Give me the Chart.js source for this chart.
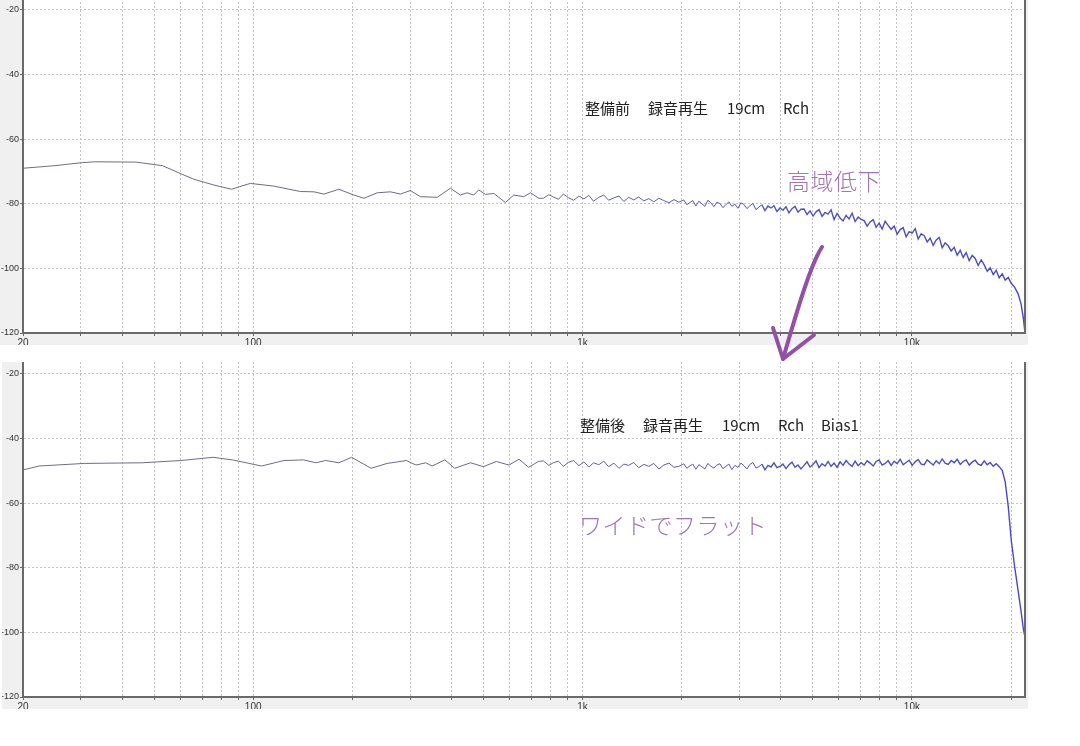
<!DOCTYPE html>
<html>
<head>
<meta charset="utf-8">
<script src="https://cdn.jsdelivr.net/npm/chart.js@4.4.1/dist/chart.umd.min.js"></script>
<style>
  html, body { margin: 0; padding: 0; background: #fff; }
  body { width: 1080px; height: 746px; position: relative; overflow: hidden; font-family: "Noto Sans CJK JP", sans-serif; }
  canvas { position: absolute; }
  #top { left: 0; top: -2px; }
  #bottom { left: 2px; top: 362px; }
  .note { position: absolute; white-space: nowrap; line-height: 1; }
  .cap { font-size: 15px; color: #222; }
  .hand { font-size: 23px; color: #a274b4; letter-spacing: 0.5px; font-weight: 300; }
  svg { position: absolute; left: 0; top: 0; }
</style>
</head>
<body>
<canvas id="top" width="1028" height="347"></canvas>
<canvas id="bottom" width="1026" height="347"></canvas>

<span class="note cap" style="left:585px;top:100px">整備前</span>
<span class="note cap" style="left:648px;top:100px">録音再生</span>
<span class="note cap" style="left:727px;top:100px">19cm</span>
<span class="note cap" style="left:783px;top:100px">Rch</span>
<span class="note hand" style="left:787px;top:169px">高域低下</span>

<span class="note cap" style="left:580px;top:417px">整備後</span>
<span class="note cap" style="left:643px;top:417px">録音再生</span>
<span class="note cap" style="left:722px;top:417px">19cm</span>
<span class="note cap" style="left:778px;top:417px">Rch</span>
<span class="note cap" style="left:821px;top:417px">Bias1</span>
<span class="note hand" style="left:579px;top:513px">ワイドでフラット</span>

<svg width="1080" height="746">
  <g fill="none" stroke="#9350a5" stroke-width="4" stroke-linecap="round" stroke-linejoin="round">
    <path d="M822,247 C812,262 800,300 783,359"/>
    <path d="M773,328 L783,359 L814,335"/>
  </g>
</svg>

<script>
// frequency axis (Hz) and level axis (dB)
var xGrid = [20, 30, 40, 50, 60, 70, 80, 90, 100, 200, 300, 400, 500, 600, 700, 800, 900,
             1000, 2000, 3000, 4000, 5000, 6000, 7000, 8000, 9000, 10000, 20000];
var xLabels = { 20: '20', 100: '100', 1000: '1k', 10000: '10k' };
var yGrid = [-120, -100, -80, -60, -40, -20];

// upper trace (before service), 20 - 737 Hz
var topLowFreq = [20, 25, 30, 33, 44, 53, 60, 66, 76, 86,
                  91, 98, 115, 139, 153, 164, 182, 202, 217, 238,
                  261, 280, 300, 322, 362, 397, 426, 446, 467, 484,
                  507, 538, 583, 618, 663, 695, 737];
var topLowLevel = [-69.0, -68.2, -67.3, -67.0, -67.1, -68.2, -70.6, -72.4, -74.2, -75.5,
                   -74.7, -73.7, -74.5, -76.2, -76.3, -77.0, -75.5, -77.3, -78.3, -76.6,
                   -76.3, -77.0, -75.9, -77.8, -78.0, -75.2, -77.3, -76.6, -77.3, -75.7,
                   -77.1, -76.8, -79.6, -77.3, -77.8, -76.6, -78.3];

// lower trace (after service), 20 - 734 Hz
var bottomLowFreq = [20, 22.4, 30.7, 46, 60.3, 75.5, 86.5, 106, 124, 142,
                     155, 166, 182, 199, 228, 255, 292, 312, 334, 349,
                     382, 409, 457, 500, 547, 598, 641, 686, 734];
var bottomLowLevel = [-49.7, -48.5, -47.7, -47.5, -46.8, -45.8, -46.6, -48.5, -46.8, -46.6,
                      -47.5, -46.8, -47.5, -45.8, -49.2, -47.7, -46.8, -48.2, -47.5, -48.5,
                      -46.6, -49.2, -47.5, -48.7, -47.1, -48.2, -46.4, -48.9, -47.1];

// shared frequency points for the busy part, 760 Hz - 20 kHz
var hfFreq = [760, 790, 815, 845, 875, 905, 940, 975, 1010, 1045,
              1080, 1120, 1160, 1200, 1245, 1290, 1335, 1380, 1430, 1480,
              1535, 1590, 1645, 1705, 1765, 1830, 1895, 1960,
              2030, 2073, 2117, 2162, 2208, 2255, 2303, 2352, 2402, 2453,
              2505, 2558, 2612, 2667, 2724, 2782, 2841, 2901, 2963, 3026,
              3090, 3156, 3223, 3291, 3361, 3432, 3505, 3579, 3655, 3733,
              3812, 3893, 3976, 4060, 4146, 4234, 4324, 4416, 4510, 4606,
              4704, 4804, 4906, 5010, 5116, 5225, 5336, 5449, 5565, 5683,
              5804, 5927, 6053, 6181, 6312, 6446, 6583, 6723, 6866, 7012,
              7161, 7313, 7468, 7626, 7788, 7953, 8122, 8294, 8470, 8650,
              8834, 9021, 9212, 9408, 9607, 9811, 10019, 10232, 10449, 10671,
              10897, 11128, 11364, 11605, 11851, 12102, 12359, 12621, 12889, 13162,
              13441, 13726, 14017, 14314, 14618, 14928, 15244, 15568, 15898, 16235,
              16579, 16931, 17290, 17657, 18031, 18413, 18804, 19203, 19610, 20026];

var topHfLevel = [-78.3, -77.2, -77.9, -78.6, -77.0, -78.1, -78.9, -77.6, -78.5, -77.4,
                  -79.2, -78.0, -77.3, -78.9, -78.2, -77.6, -79.3, -78.0, -78.8, -77.9,
                  -79.1, -78.4, -79.4, -78.3, -79.0, -79.7, -78.7, -79.5,
                  -78.8, -80.3, -79.6, -79.0, -80.7, -79.2, -80.0, -80.8, -78.9, -79.7,
                  -80.9, -79.5, -79.9, -81.2, -80.3, -79.4, -80.8, -80.1, -81.4, -79.7,
                  -80.2, -81.5, -80.6, -79.9, -81.8, -81.0, -80.3, -82.1, -80.7, -81.3,
                  -80.6, -82.4, -81.3, -82.0, -80.9, -82.8, -81.5, -80.8, -82.6, -81.7,
                  -81.6, -83.3, -82.2, -83.8, -82.5, -81.8, -83.9, -82.7, -83.2, -81.9,
                  -84.9, -83.0, -84.4, -85.3, -83.6, -84.7, -82.9, -85.5, -84.1, -84.8,
                  -85.2, -86.9, -85.6, -84.9, -87.3, -86.0, -87.8, -85.4, -86.7, -87.9,
                  -86.9, -89.4, -88.0, -87.4, -90.2, -88.6, -89.1, -87.7, -90.9, -89.3,
                  -89.9, -91.8, -90.6, -92.9, -91.2, -90.4, -93.6, -92.1, -93.0, -94.6,
                  -93.5, -95.9, -94.4, -96.6, -95.1, -97.6, -96.0, -96.9, -99.1, -97.4,
                  -98.9, -100.9, -99.8, -101.9, -100.6, -102.9, -101.7, -103.6, -102.8, -104.6];

var bottomHfLevel = [-46.9, -48.3, -47.5, -47.0, -48.6, -47.4, -46.8, -48.4, -47.2, -48.8,
                     -47.5, -48.1, -47.0, -48.7, -47.6, -49.2, -47.9, -48.3, -47.4, -49.0,
                     -48.0, -48.6, -47.7, -49.4, -48.2, -47.6, -48.9, -48.6,
                     -47.8, -49.2, -48.5, -47.9, -49.5, -48.1, -48.7, -49.4, -47.7, -48.6,
                     -49.1, -48.2, -47.8, -49.3, -48.6, -47.9, -49.6, -48.3, -48.9, -47.6,
                     -48.4, -49.4, -48.0, -47.4, -49.1, -48.7, -47.9, -49.7, -48.3, -48.8,
                     -47.5, -49.0, -48.6, -47.9, -49.3, -48.1, -47.3, -48.9, -48.2, -49.4,
                     -48.3, -47.2, -48.8, -48.0, -46.9, -49.0, -47.8, -48.5, -47.1, -48.6,
                     -47.6, -48.9, -47.2, -48.3, -46.8, -47.9, -48.6, -47.0, -48.4, -47.5,
                     -48.2, -46.9, -47.6, -48.5, -47.1, -46.6, -48.2, -47.7, -46.8, -48.3,
                     -47.0, -47.8, -46.4, -48.1, -47.4, -46.7, -48.3, -47.2, -46.5, -47.9,
                     -48.1, -46.6, -47.4, -48.2, -46.9, -47.8, -46.3, -47.6, -48.0, -46.8,
                     -47.5, -46.4, -48.0, -47.1, -46.6, -48.2, -47.3, -46.7, -47.9, -48.3,
                     -46.9, -48.1, -47.4, -48.6, -47.8, -48.7, -49.8, -53.5, -61.0, -71.4];

// roll-off up to Nyquist
var tailFreq = [20500, 21000, 21450, 21800, 22050];
var topTailLevel = [-105.8, -107.8, -111.0, -115.5, -120.0];
var bottomTailLevel = [-79.5, -86.9, -93.5, -99.0, -101.5];

Chart.defaults.font.family = "'Liberation Sans', sans-serif";
Chart.defaults.font.size = 10;
Chart.defaults.color = '#333';

var panelBg = {
    id: 'panelBg',
    beforeDraw: function(chart) {
        var c = chart.ctx, a = chart.chartArea;
        c.save();
        c.fillStyle = '#f0f0f0';
        c.fillRect(0, 0, chart.width, chart.height);
        c.fillStyle = '#fff';
        c.fillRect(a.left, a.top, a.right - a.left, a.bottom - a.top);
        c.restore();
    },
    afterDraw: function(chart) {
        var c = chart.ctx, a = chart.chartArea;
        c.save();
        c.strokeStyle = '#6a6a6a';
        c.lineWidth = 2;
        c.beginPath();
        c.moveTo(a.right, a.top);
        c.lineTo(a.right, a.bottom);
        c.stroke();
        c.restore();
    }
};

function traceColor(context) {
    var chart = context.chart, a = chart.chartArea;
    if (!a) return '#66668a';
    var g = chart.ctx.createLinearGradient(a.left, 0, a.right, 0);
    g.addColorStop(0, '#6e6e80');
    g.addColorStop(0.5, '#6a6a8c');
    g.addColorStop(0.7, '#5656b8');
    g.addColorStop(1, '#4848c8');
    return g;
}

function makeChart(id, freqs, levels, yAxisWidth) {
    var points = freqs.map(function(f, i) { return { x: f, y: levels[i] }; });
    var gridOpts = { color: '#c4c4c4', lineWidth: 1, tickLength: 3, tickColor: '#666', tickBorderDash: [] };
    var borderOpts = { color: '#6a6a6a', width: 2, dash: [2, 2] };
    return new Chart(document.getElementById(id), {
        type: 'line',
        data: {
            datasets: [{
                data: points,
                borderColor: traceColor,
                borderWidth: 1,
                pointRadius: 0,
                tension: 0,
                segment: {
                    borderWidth: function(ctx) { return ctx.p0.parsed.x > 3500 ? 1.4 : 1; }
                }
            }]
        },
        options: {
            responsive: false,
            animation: false,
            devicePixelRatio: 1,
            layout: { padding: { top: 0, right: 3, bottom: 0, left: 0 } },
            plugins: { legend: { display: false }, tooltip: { enabled: false } },
            scales: {
                x: {
                    type: 'logarithmic',
                    min: 20,
                    max: 22050,
                    afterBuildTicks: function(s) { s.ticks = xGrid.map(function(v) { return { value: v }; }); },
                    afterFit: function(s) { s.height = 12; s.paddingLeft = 0; s.paddingRight = 0; },
                    grid: gridOpts,
                    border: borderOpts,
                    ticks: {
                        autoSkip: false,
                        maxRotation: 0,
                        padding: 1,
                        callback: function(v) { return xLabels[v] || ''; }
                    }
                },
                y: {
                    min: -120,
                    max: -16.3,
                    afterBuildTicks: function(s) { s.ticks = yGrid.map(function(v) { return { value: v }; }); },
                    afterFit: function(s) { s.width = yAxisWidth; s.paddingTop = 0; s.paddingBottom = 0; },
                    grid: gridOpts,
                    border: borderOpts,
                    ticks: { padding: 1, font: { size: 9 } }
                }
            }
        },
        plugins: [panelBg]
    });
}

makeChart('top', topLowFreq.concat(hfFreq, tailFreq), topLowLevel.concat(topHfLevel, topTailLevel), 23);
makeChart('bottom', bottomLowFreq.concat(hfFreq, tailFreq), bottomLowLevel.concat(bottomHfLevel, bottomTailLevel), 21);
</script>
</body>
</html>
